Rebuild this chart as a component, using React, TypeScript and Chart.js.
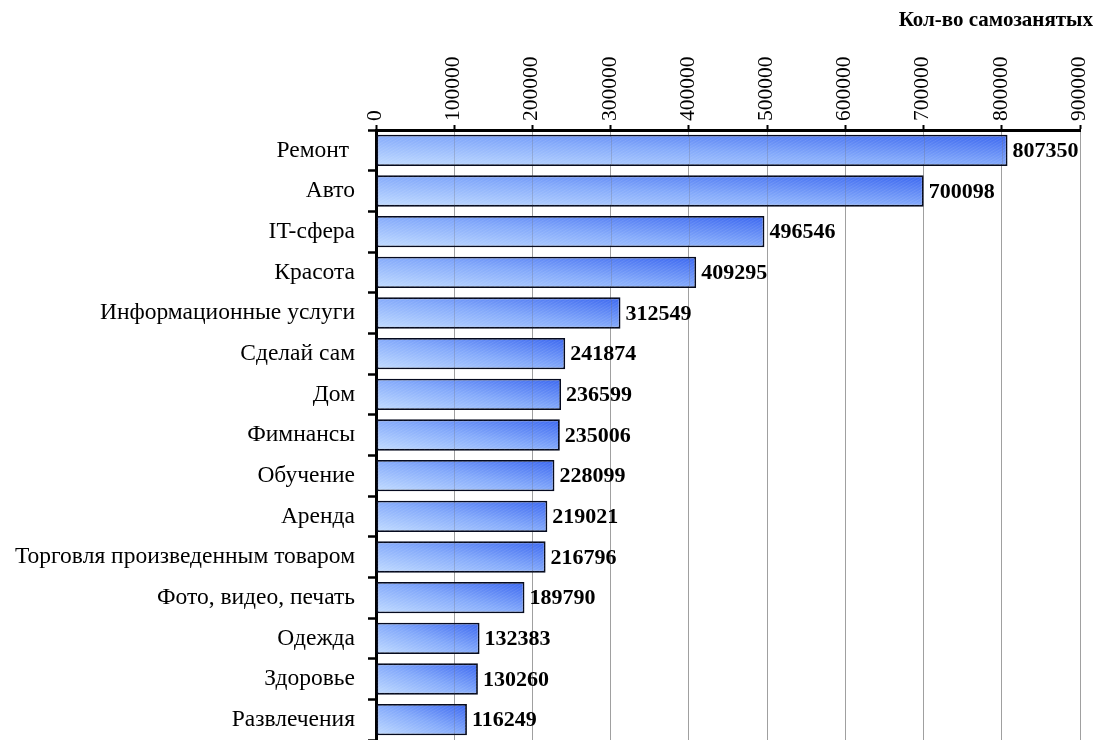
import React, { useEffect, useRef } from "react";
import { Chart, registerables } from "chart.js";

Chart.register(...registerables);

// Категории (сверху вниз) и количество самозанятых
const categories: string[] = [
  "Ремонт ",
  "Авто",
  "IT-сфера",
  "Красота",
  "Информационные услуги",
  "Сделай сам",
  "Дом",
  "Фимнансы",
  "Обучение",
  "Аренда",
  "Торговля произведенным товаром",
  "Фото, видео, печать",
  "Одежда",
  "Здоровье",
  "Развлечения",
];

const counts: number[] = [
  807350, 700098, 496546, 409295, 312549, 241874, 236599, 235006, 228099,
  219021, 216796, 189790, 132383, 130260, 116249,
];

const axisTitle = "Кол-во самозанятых";
const axisMin = 0;
const axisMax = 900000;
const axisStep = 100000;

const SERIF = "'Liberation Serif', 'Times New Roman', serif";
const BAR_PCT = 0.77;

// Gradient that runs from the bar's lower-left corner to its upper-right
// corner, stretched with the shape of the bar.
function barGradient(
  ctx: CanvasRenderingContext2D,
  left: number,
  top: number,
  right: number,
  bottom: number
) {
  const w = Math.max(1, right - left);
  const h = Math.max(1, bottom - top);
  const l2 = w * w + h * h;
  const dx = (2 * w * h * h) / l2;
  const dy = (2 * w * w * h) / l2;
  const g = ctx.createLinearGradient(left, bottom, left + dx, bottom - dy);
  g.addColorStop(0, "#c2dcff");
  g.addColorStop(0.5, "#84aafb");
  g.addColorStop(1, "#3a66f0");
  return g;
}

// Faint diagonal texture over each bar, with the grid showing through
const hatchPlugin = {
  id: "barHatch",
  afterDatasetsDraw(chart: any) {
    const ctx: CanvasRenderingContext2D = chart.ctx;
    const meta = chart.getDatasetMeta(0);
    const xs = chart.scales.x;
    meta.data.forEach((bar: any) => {
      const { x, y, base, height } = bar.getProps(["x", "y", "base", "height"], true);
      const left = Math.min(base, x) + 1;
      const right = Math.max(base, x) - 1;
      const top = y - height / 2 + 1;
      const bottom = y + height / 2 - 1;
      ctx.save();
      ctx.beginPath();
      ctx.rect(left, top, right - left, bottom - top);
      ctx.clip();
      ctx.strokeStyle = "rgba(255,255,255,0.10)";
      ctx.lineWidth = 1;
      const hgt = bottom - top;
      for (let sx = left - hgt * 2; sx < right; sx += 5) {
        ctx.beginPath();
        ctx.moveTo(sx, bottom);
        ctx.lineTo(sx + hgt * 1.7, top);
        ctx.stroke();
      }
      ctx.strokeStyle = "rgba(110,110,120,0.28)";
      xs.ticks.forEach((t: any) => {
        if (t.value === axisMin) return;
        const px = Math.round(xs.getPixelForValue(t.value)) + 0.5;
        ctx.beginPath();
        ctx.moveTo(px, top);
        ctx.lineTo(px, bottom);
        ctx.stroke();
      });
      ctx.restore();
    });
  },
};

// Value labels at the end of each bar and the axis caption at top right
const labelPlugin = {
  id: "valueLabels",
  afterDraw(chart: any) {
    const ctx: CanvasRenderingContext2D = chart.ctx;
    const meta = chart.getDatasetMeta(0);
    ctx.save();
    ctx.fillStyle = "#000";
    ctx.font = `bold 22px ${SERIF}`;
    ctx.textAlign = "left";
    ctx.textBaseline = "middle";
    meta.data.forEach((bar: any, i: number) => {
      const { x, y } = bar.getProps(["x", "y"], true);
      ctx.fillText(String(counts[i]), x + 5, y + 1);
    });
    ctx.font = `bold 21px ${SERIF}`;
    ctx.textAlign = "right";
    ctx.fillText(axisTitle, chart.width - 4, 21);
    ctx.restore();
  },
};

export default function App() {
  const canvasRef = useRef<HTMLCanvasElement | null>(null);

  useEffect(() => {
    const canvas = canvasRef.current;
    if (!canvas) return;
    const chart = new Chart(canvas, {
      type: "bar",
      data: {
        labels: categories,
        datasets: [
          {
            data: counts,
            backgroundColor: (c: any) => {
              const ch = c.chart;
              const xs = ch.scales?.x;
              const ys = ch.scales?.y;
              if (!xs || !ys || c.type !== "data") return "#84aafb";
              const x0 = xs.getPixelForValue(0);
              const x1 = xs.getPixelForValue(c.raw);
              const yc = ys.getPixelForValue(c.dataIndex);
              const half = (ys.getPixelForValue(1) - ys.getPixelForValue(0)) * BAR_PCT / 2;
              if (![x0, x1, yc, half].every(Number.isFinite)) return "#84aafb";
              return barGradient(ch.ctx, x0, yc - half, x1, yc + half);
            },
            borderColor: "#050a1e",
            borderWidth: 1.8,
            borderSkipped: false,
            barPercentage: BAR_PCT,
            categoryPercentage: 1,
          },
        ],
      },
      options: {
        indexAxis: "y",
        responsive: false,
        animation: false,
        events: [],
        layout: { padding: { left: 0, right: 17, top: 0, bottom: 0 } },
        plugins: {
          legend: { display: false },
          title: { display: false },
          tooltip: { enabled: false },
        },
        scales: {
          x: {
            position: "top",
            min: axisMin,
            max: axisMax,
            afterFit: (s: any) => {
              s.height = 130;
              s.paddingLeft = 0;
              s.paddingRight = 0;
            },
            ticks: {
              stepSize: axisStep,
              minRotation: 90,
              maxRotation: 90,
              padding: 4,
              labelOffset: 25,
              color: "#000",
              font: { family: SERIF, size: 21.5 },
              callback: (v: any) => String(v),
            },
            grid: {
              color: "#a0a0a0",
              lineWidth: 1,
              tickColor: "#000",
              tickLength: 5,
              tickWidth: 2,
            },
            border: { display: true, color: "#000", width: 3 },
          },
          y: {
            afterFit: (s: any) => {
              s.width = 376;
              s.paddingTop = 0;
              s.paddingBottom = 0;
            },
            ticks: {
              padding: 13,
              color: "#000",
              font: { family: SERIF, size: 23.5 },
            },
            grid: {
              drawOnChartArea: false,
              tickColor: "#000",
              tickLength: 8,
              tickWidth: 2.5,
            },
            border: { display: true, color: "#000", width: 3 },
          },
        },
      },
      plugins: [hatchPlugin, labelPlugin],
    });
    return () => chart.destroy();
  }, []);

  return (
    <div style={{ position: "absolute", left: 0, top: 0, width: 1097, height: 740, background: "#fff" }}>
      <canvas ref={canvasRef} width={1097} height={740} />
    </div>
  );
}
